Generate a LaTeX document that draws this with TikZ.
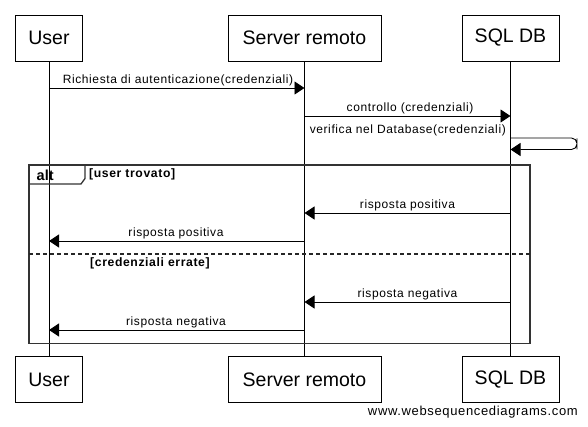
\documentclass[tikz,border=0pt]{standalone}
\usepackage{fontspec}
\setmainfont{Liberation Sans}
\newfontfamily\lblfont[LetterSpace=5]{Liberation Sans}
\usetikzlibrary{arrows.meta}
\tikzset{
  actor/.style={draw=black, line width=0.9pt, minimum height=46pt, inner sep=0pt, font=\fontsize{19.5}{21}\selectfont},
  lifeline/.style={draw=black, line width=0.9pt},
  msg/.style={draw=black, line width=0.9pt, -{Triangle[length=10pt,width=13pt]}},
  msglabel/.style={anchor=base, inner sep=0pt, font=\lblfont\fontsize{12}{13}\selectfont},
  frame/.style={draw=black!80, line width=1.7pt},
  divider/.style={draw=black!85, line width=1.2pt, dash pattern=on 4pt off 3pt},
  guard/.style={anchor=base west, inner sep=0pt, font=\lblfont\bfseries\fontsize{12.2}{13}\selectfont},
}
\begin{document}
\begin{tikzpicture}[x=1pt,y=-1pt]
\useasboundingbox (0,0) rectangle (588,426);
% actors
\node[actor, minimum width=67pt] (userT) at (49,38) {User};
\node[actor, minimum width=153pt] (servT) at (304.5,38) {Server remoto};
\node[actor, minimum width=97pt] (dbT) at (510.5,38) {SQL DB};
\node[actor, minimum width=67pt] (userB) at (49,379.5) {User};
\node[actor, minimum width=153pt] (servB) at (304.5,379.5) {Server remoto};
\node[actor, minimum width=97pt] (dbB) at (510.5,379.5) {SQL DB};
% lifelines
\draw[lifeline] (userT.south) -- (userB.north);
\draw[lifeline] (servT.south) -- (servB.north);
\draw[lifeline] (dbT.south) -- (dbB.north);
% message anchor points
\coordinate (u1) at (49,88);   \coordinate (s1) at (304.5,88);
\coordinate (s2) at (304.5,116); \coordinate (d2) at (510.5,116);
\coordinate (d3a) at (510.5,138); \coordinate (d3b) at (510.5,149.5);
\coordinate (d3r) at (577,143.75);
\coordinate (d5) at (510.5,213); \coordinate (s5) at (304.5,213);
\coordinate (s6) at (304.5,241); \coordinate (u6) at (49,241);
\coordinate (d8) at (510.5,302); \coordinate (s8) at (304.5,302);
\coordinate (s9) at (304.5,330); \coordinate (u9) at (49,330);
% messages
\draw[msg] (u1) -- (s1);
\node[msglabel] (l1) at (178,83.5) {Richiesta di autenticazione(credenziali)};
\draw[msg] (s2) -- (d2);
\node[msglabel] (l2) at (410,111.5) {controllo (credenziali)};
\draw[msg, rounded corners=5.5pt] (d3a) -| (d3r) |- (d3b);
\node[msglabel, anchor=base east] (l3) at (506,133.5) {verifica nel Database(credenziali)};
% alt frame
\draw[frame] (29,165) rectangle (530,343.5);
\draw[frame, line width=1.3pt] (29,184) -- (81,184) -- (85,178.5) -- (85,165);
\node[anchor=base west, inner sep=0pt, font=\bfseries\fontsize{14.5}{15}\selectfont] (alt) at (36.5,180.5) {alt};
\node[guard] (g1) at (89,177) {[user trovato]};
\draw[divider] (29,254) -- (530,254);
\node[guard] (g2) at (90,266.5) {[credenziali errate]};
\draw[msg] (d5) -- (s5);
\node[msglabel] (l5) at (407.5,208.5) {risposta positiva};
\draw[msg] (s6) -- (u6);
\node[msglabel] (l6) at (176,236.5) {risposta positiva};
\draw[msg] (d8) -- (s8);
\node[msglabel] (l8) at (407.5,297.5) {risposta negativa};
\draw[msg] (s9) -- (u9);
\node[msglabel] (l9) at (176,325.5) {risposta negativa};
% watermark
\node[anchor=base east, inner sep=0pt, font=\lblfont\fontsize{13}{14}\selectfont] (wm) at (578,415) {www.websequencediagrams.com};
\end{tikzpicture}
\end{document}
